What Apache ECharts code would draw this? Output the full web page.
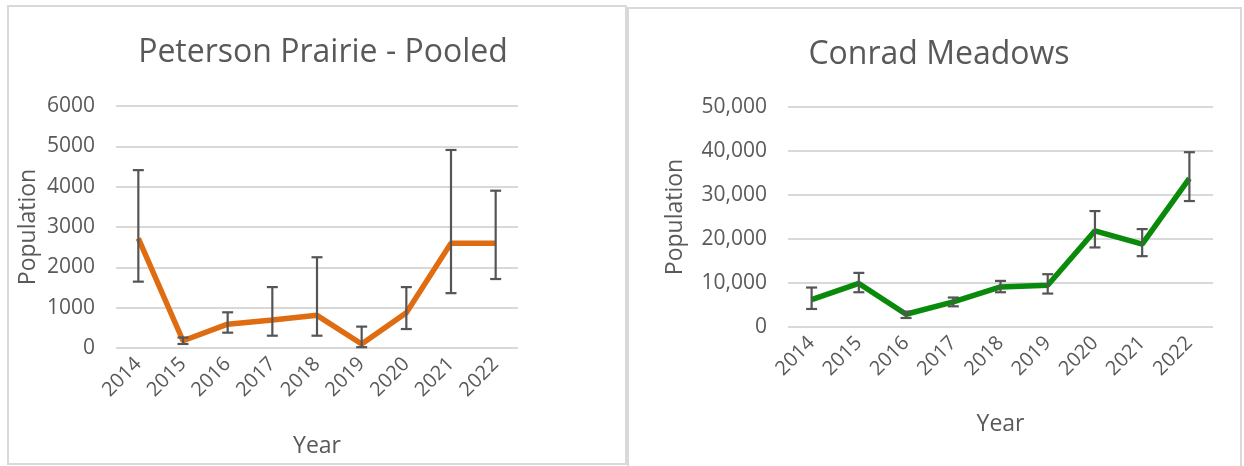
<!DOCTYPE html>
<html>
<head>
<meta charset="utf-8">
<script src="https://cdn.jsdelivr.net/npm/echarts@6/dist/echarts.min.js"></script>
<style>
html,body{margin:0;padding:0;background:#fff;}
#chart{width:1244px;height:466px;}
</style>
</head>
<body>
<div id="chart"></div>
<script>
const years = ['2014','2015','2016','2017','2018','2019','2020','2021','2022'];
const ppValues = [2720, 180, 590, 695, 810, 100, 875, 2600, 2600];
const ppLow    = [1645, 100, 380, 305, 305, 20, 470, 1360, 1710];
const ppHigh   = [4410, 260, 885, 1510, 2250, 530, 1510, 4910, 3900];
const cmValues = [6240, 9900, 2890, 5700, 9100, 9500, 21870, 18840, 33800];
const cmLow    = [4100, 7900, 2050, 4700, 7900, 7600, 18080, 16100, 28630];
const cmHigh   = [8970, 12300, 3500, 6700, 10480, 12000, 26350, 22250, 39730];
const ppTicks = {min: 0, max: 6000, interval: 1000};
const cmTicks = {min: 0, max: 50000, interval: 10000};

const FONT = '"Open Sans", sans-serif';
const TXT = '#595959';
const GRIDC = '#d9d9d9';

function errData(low, high) {
  return years.map((y, i) => [i, low[i], high[i]]);
}
function errRender(params, api) {
  const x = api.value(0);
  const lo = api.coord([x, api.value(1)]);
  const hi = api.coord([x, api.value(2)]);
  const cap = 5.5;
  const style = {stroke: '#555555', lineWidth: 2.2, fill: null};
  return {
    type: 'group',
    children: [
      {type: 'line', shape: {x1: lo[0], y1: lo[1], x2: hi[0], y2: hi[1]}, style: style},
      {type: 'line', shape: {x1: lo[0]-cap, y1: lo[1], x2: lo[0]+cap, y2: lo[1]}, style: style},
      {type: 'line', shape: {x1: hi[0]-cap, y1: hi[1], x2: hi[0]+cap, y2: hi[1]}, style: style}
    ]
  };
}
function xAxis(gi) {
  return {
    type: 'category', gridIndex: gi, data: years, boundaryGap: true,
    name: 'Year', nameLocation: 'middle', nameGap: gi === 0 ? 87 : 86,
    nameTextStyle: {color: TXT, fontSize: 23, fontFamily: FONT},
    axisLine: {show: false}, axisTick: {show: false},
    axisLabel: {color: TXT, fontSize: 20, fontFamily: FONT, rotate: 45, margin: 13, interval: 0}
  };
}
function yAxis(gi, t, fmt) {
  return {
    type: 'value', gridIndex: gi, min: t.min, max: t.max, interval: t.interval,
    name: 'Population', nameLocation: 'middle', nameGap: gi === 0 ? 76 : 101,
    nameTextStyle: {color: TXT, fontSize: 23, fontFamily: FONT},
    axisLine: {show: false}, axisTick: {show: false},
    axisLabel: {color: TXT, fontSize: 21, fontFamily: FONT, margin: 21, formatter: fmt},
    splitLine: {lineStyle: {color: GRIDC, width: 2}}
  };
}

const chart = echarts.init(document.getElementById('chart'));
chart.setOption({
  backgroundColor: '#fff',
  animation: false,
  graphic: [
    {type: 'rect', shape: {x: 8, y: 6, width: 618, height: 458}, style: {fill: null, stroke: GRIDC, lineWidth: 2}, z: -1},
    {type: 'rect', shape: {x: 628, y: 8, width: 613, height: 470}, style: {fill: null, stroke: GRIDC, lineWidth: 2}, z: -1}
  ],
  title: [
    {text: 'Peterson Prairie - Pooled', left: 318, top: 32, textAlign: 'center',
     textStyle: {color: TXT, fontSize: 32, fontWeight: 'normal', fontFamily: FONT}},
    {text: 'Conrad Meadows', left: 934, top: 34, textAlign: 'center',
     textStyle: {color: TXT, fontSize: 32, fontWeight: 'normal', fontFamily: FONT}}
  ],
  grid: [
    {left: 116, right: 726, top: 106, bottom: 118},
    {left: 788, right: 31, top: 107, bottom: 139}
  ],
  xAxis: [xAxis(0), xAxis(1)],
  yAxis: [
    yAxis(0, ppTicks, v => String(v)),
    yAxis(1, cmTicks, v => v.toLocaleString('en-US'))
  ],
  series: [
    {type: 'line', xAxisIndex: 0, yAxisIndex: 0, data: ppValues, symbol: 'none',
     lineStyle: {color: '#E06C12', width: 5.5}, z: 2},
    {type: 'custom', xAxisIndex: 0, yAxisIndex: 0, data: errData(ppLow, ppHigh),
     renderItem: errRender, z: 3},
    {type: 'line', xAxisIndex: 1, yAxisIndex: 1, data: cmValues, symbol: 'none',
     lineStyle: {color: '#0A8A0A', width: 5.5}, z: 2},
    {type: 'custom', xAxisIndex: 1, yAxisIndex: 1, data: errData(cmLow, cmHigh),
     renderItem: errRender, z: 3}
  ]
});
</script>
</body>
</html>
